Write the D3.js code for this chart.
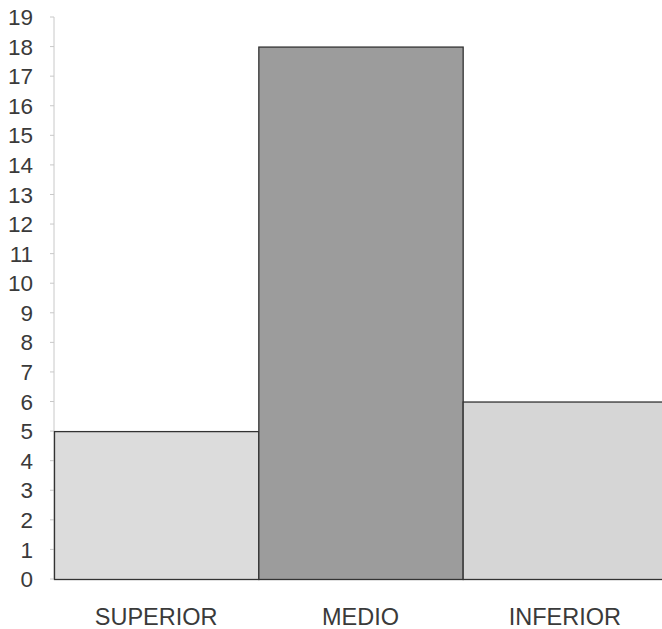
<!DOCTYPE html>
<html>
<head>
<meta charset="utf-8">
<script src="https://cdn.jsdelivr.net/npm/d3@7.9.0/dist/d3.min.js"></script>
<style>
  body { margin: 0; background: #fff; }
  svg { display: block; font-family: "Liberation Sans", Arial, sans-serif; }
</style>
</head>
<body>
<svg id="chart"></svg>
<script>
// data
const categories = ["SUPERIOR", "MEDIO", "INFERIOR"];
const values = [5, 18, 6];
const fills = ["#dcdcdc", "#9c9c9c", "#d6d6d6"];
const yTicks = d3.range(0, 20);

const width = 662;
const height = 629;
const margin = { top: 17, right: -5, bottom: 50, left: 54 };

const svg = d3.select("#chart")
  .attr("width", width)
  .attr("height", height);

const x = d3.scaleBand()
  .domain(categories)
  .range([margin.left, width - margin.right])
  .padding(0);

const y = d3.scaleLinear()
  .domain([0, 19])
  .range([height - margin.bottom, margin.top]);

// y axis line
svg.append("line")
  .attr("x1", margin.left).attr("x2", margin.left)
  .attr("y1", y(19)).attr("y2", y(0))
  .attr("stroke", "#c8c8c8");

// ticks + labels
const yAxis = svg.append("g");
yAxis.selectAll("line")
  .data(yTicks)
  .join("line")
  .attr("x1", margin.left - 4).attr("x2", margin.left)
  .attr("y1", d => y(d)).attr("y2", d => y(d))
  .attr("stroke", "#c8c8c8");

yAxis.selectAll("text")
  .data(yTicks)
  .join("text")
  .attr("x", 33)
  .attr("y", d => y(d))
  .attr("dy", "0.36em")
  .attr("text-anchor", "end")
  .attr("font-size", 22.5)
  .attr("fill", "#3a3a3a")
  .text(d => d);

// bars
svg.append("g")
  .selectAll("rect")
  .data(values)
  .join("rect")
  .attr("x", (d, i) => x(categories[i]) + 0.5)
  .attr("y", d => y(d) + 0.5)
  .attr("width", x.bandwidth())
  .attr("height", d => y(0) - y(d))
  .attr("fill", (d, i) => fills[i])
  .attr("stroke", "#333")
  .attr("stroke-width", 1.3);

// category labels
svg.append("g")
  .selectAll("text")
  .data(categories)
  .join("text")
  .attr("x", d => x(d) + x.bandwidth() / 2)
  .attr("y", y(0) + 46)
  .attr("text-anchor", "middle")
  .attr("font-size", 23.5)
  .attr("fill", "#3a3a3a")
  .text(d => d);
</script>
</body>
</html>
